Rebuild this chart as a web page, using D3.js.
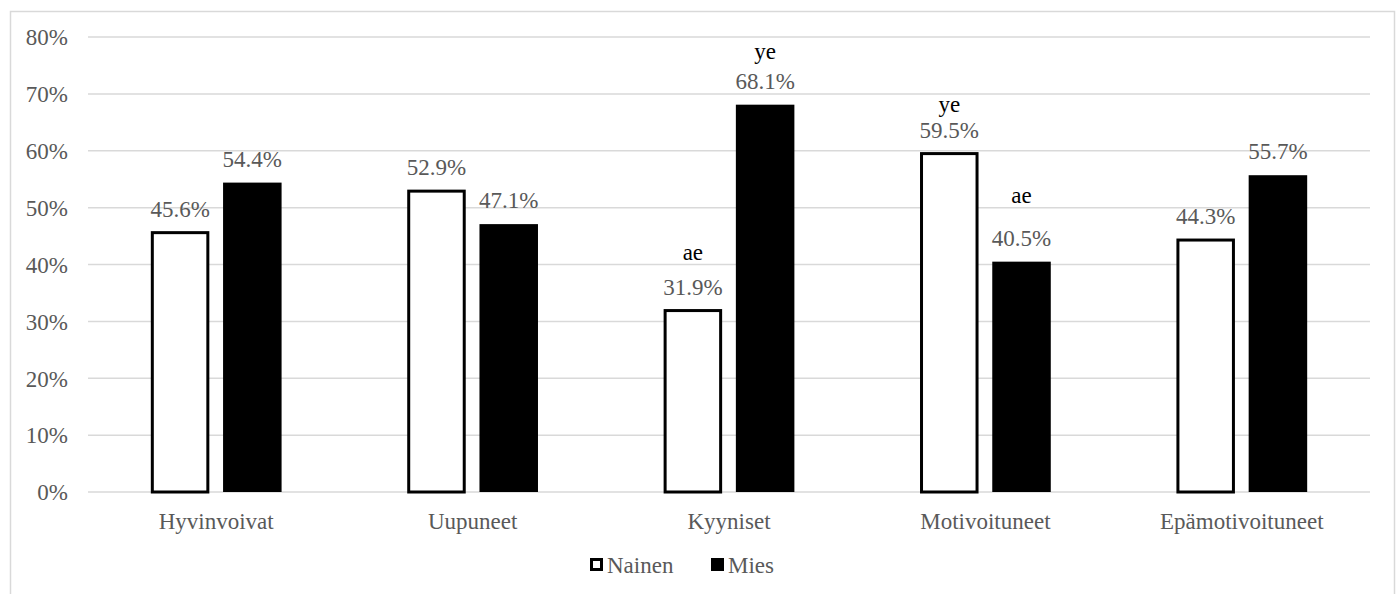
<!DOCTYPE html>
<html>
<head>
<meta charset="utf-8">
<script src="https://cdn.jsdelivr.net/npm/d3@7"></script>
<style>
  html, body { margin: 0; padding: 0; background: #fff; }
  svg text { font-family: "Liberation Serif", "Times New Roman", Times, serif !important; }
</style>
</head>
<body>
<svg id="chart" width="1399" height="594"></svg>
<script>
// Categories and series
const categories = ["Hyvinvoivat", "Uupuneet", "Kyyniset", "Motivoituneet", "Epämotivoituneet"];
const seriesNames = ["Nainen", "Mies"];
const nainen = [45.6, 52.9, 31.9, 59.5, 44.3];
const mies = [54.4, 47.1, 68.1, 40.5, 55.7];
// Significance markers above bars ("" = none)
const nainenNotes = ["", "", "ae", "ye", ""];
const miesNotes = ["", "", "ye", "ae", ""];
const yTicks = [0, 10, 20, 30, 40, 50, 60, 70, 80];

// Layout
const plot = { left: 88, right: 1370, top: 37, bottom: 492 };
const noteGap = { Nainen: [0, 0, 35, 26, 0], Mies: [0, 0, 30, 43, 0] };
const gray = "#595959";
const gridColor = "#d9d9d9";
const fs = 23;

const svg = d3.select("#chart");

// Outer frame
svg.append("rect")
  .attr("x", 10.5).attr("y", 11.5)
  .attr("width", 1384).attr("height", 600)
  .attr("fill", "none").attr("stroke", gridColor).attr("stroke-width", 1.5);

const y = d3.scaleLinear().domain([0, 80]).range([plot.bottom, plot.top]);
const x0 = d3.scaleBand().domain(categories).range([plot.left, plot.right])
  .paddingInner(0.49).paddingOuter(0.245);
const x1 = d3.scaleBand().domain(seriesNames).range([0, x0.bandwidth()])
  .paddingInner(0.19).paddingOuter(0);

// Gridlines
svg.append("g").selectAll("line").data(yTicks).join("line")
  .attr("x1", plot.left).attr("x2", plot.right)
  .attr("y1", d => y(d)).attr("y2", d => y(d))
  .attr("stroke", gridColor).attr("stroke-width", 1.5);

// Y axis labels
const yAxis = d3.axisLeft(y).tickValues(yTicks).tickFormat(d => d + "%").tickSize(0).tickPadding(20);
const ya = svg.append("g").attr("transform", `translate(${plot.left},0)`).call(yAxis);
ya.select(".domain").remove();
ya.selectAll("text").attr("fill", gray).attr("font-size", fs).attr("dy", "0.34em");

// X axis labels
const xAxis = d3.axisBottom(x0).tickSize(0).tickPadding(21);
const xa = svg.append("g").attr("transform", `translate(0,${plot.bottom})`).call(xAxis);
xa.select(".domain").remove();
xa.selectAll("text").attr("fill", gray).attr("font-size", fs);

// Bars
const rows = categories.map((c, i) => ({
  cat: c,
  vals: [
    { s: "Nainen", v: nainen[i], note: nainenNotes[i], gap: noteGap.Nainen[i] },
    { s: "Mies", v: mies[i], note: miesNotes[i], gap: noteGap.Mies[i] }
  ]
}));

const groups = svg.append("g").selectAll("g").data(rows).join("g")
  .attr("transform", d => `translate(${x0(d.cat)},0)`);

groups.selectAll("rect").data(d => d.vals).join("rect")
  .attr("x", d => x1(d.s) + (d.s === "Nainen" ? 1.5 : 0))
  .attr("width", d => x1.bandwidth() - (d.s === "Nainen" ? 3 : 0))
  .attr("y", d => y(d.v))
  .attr("height", d => y(0) - y(d.v))
  .attr("fill", d => d.s === "Nainen" ? "#fff" : "#000")
  .attr("stroke", d => d.s === "Nainen" ? "#000" : "none")
  .attr("stroke-width", 3);

// Value labels
groups.selectAll("text.val").data(d => d.vals).join("text")
  .attr("class", "val")
  .attr("x", d => x1(d.s) + x1.bandwidth() / 2)
  .attr("y", d => y(d.v) - 16)
  .attr("text-anchor", "middle")
  .attr("fill", gray).attr("font-size", fs)
  .text(d => d.v.toFixed(1) + "%");

// Significance notes
groups.selectAll("text.note").data(d => d.vals.filter(v => v.note)).join("text")
  .attr("class", "note")
  .attr("x", d => x1(d.s) + x1.bandwidth() / 2)
  .attr("y", d => y(d.v) - 16 - d.gap)
  .attr("text-anchor", "middle")
  .attr("fill", "#000").attr("font-size", fs)
  .text(d => d.note);

// Legend
const legend = svg.append("g").attr("transform", "translate(590,558)");
const legendItems = [
  { name: seriesNames[0], fill: "#fff", stroke: "#000", x: 0 },
  { name: seriesNames[1], fill: "#000", stroke: "none", x: 121 }
];
const li = legend.selectAll("g").data(legendItems).join("g")
  .attr("transform", d => `translate(${d.x},0)`);
li.append("rect")
  .attr("x", d => d.stroke === "none" ? 0 : 1.5)
  .attr("y", d => d.stroke === "none" ? 0 : 1.5)
  .attr("width", d => d.stroke === "none" ? 13 : 10)
  .attr("height", d => d.stroke === "none" ? 13 : 10)
  .attr("fill", d => d.fill).attr("stroke", d => d.stroke).attr("stroke-width", 3);
li.append("text")
  .attr("x", 17).attr("y", 15)
  .attr("fill", gray).attr("font-size", fs)
  .text(d => d.name);
</script>
</body>
</html>
